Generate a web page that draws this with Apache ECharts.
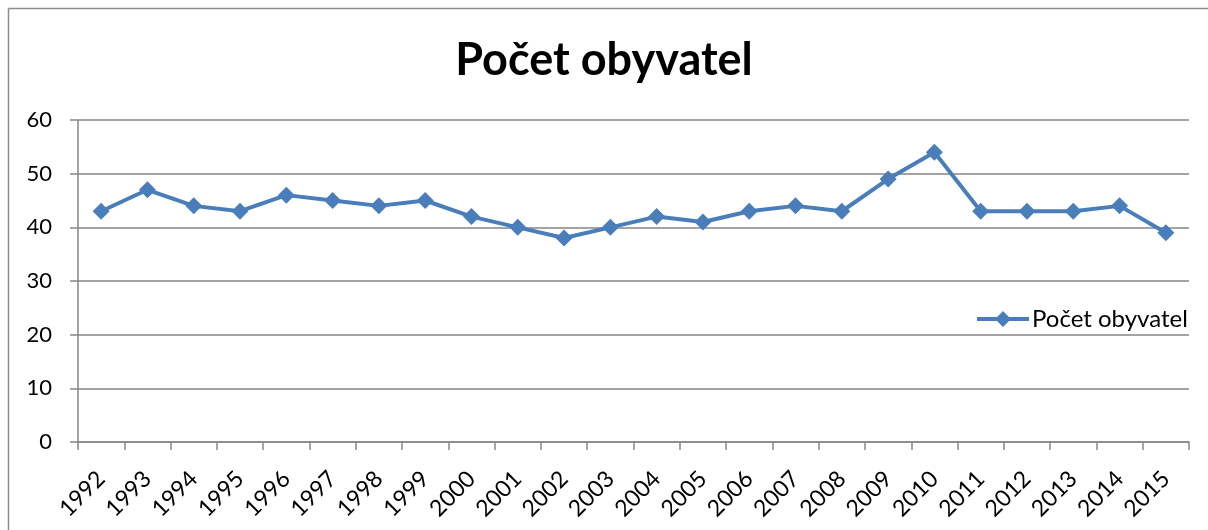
<!DOCTYPE html>
<html><head><meta charset="utf-8">
<script src="https://cdn.jsdelivr.net/npm/echarts@6/dist/echarts.min.js"></script>
<style>html,body{margin:0;padding:0;background:#fff}#c{width:1208px;height:530px}</style>
</head><body><div id="c"></div>
<script>
const years = ['1992','1993','1994','1995','1996','1997','1998','1999','2000','2001','2002','2003','2004','2005','2006','2007','2008','2009','2010','2011','2012','2013','2014','2015'];
const population = [43,47,44,43,46,45,44,45,42,40,38,40,42,41,43,44,43,49,54,43,43,43,44,39];
const seriesName = 'Počet obyvatel';
const titleText = 'Počet obyvatel';

const chart = echarts.init(document.getElementById('c'));
const font = 'Lato, "Open Sans", sans-serif';
chart.setOption({
  animation: false,
  textStyle: {fontFamily: font},
  graphic: [
    {type:'line', shape:{x1:8.5,y1:8.5,x2:1208,y2:8.5}, style:{stroke:'#8c8c8c', lineWidth:1.5}, silent:true},
    {type:'line', shape:{x1:8.5,y1:8.5,x2:8.5,y2:530}, style:{stroke:'#8c8c8c', lineWidth:1.5}, silent:true}
  ],
  title: {text: titleText, left: 'center', top: 33, textStyle:{fontFamily:font, fontSize:45, fontWeight:'bold', color:'#000'}},
  legend: {data:[{name:seriesName, icon:'path://M0,6 L20,6 L26,0 L32,6 L52,6 L52,10 L32,10 L26,16 L20,10 L0,10 Z'}], show:true, left: 972, top: 302, itemWidth: 56, itemHeight: 16, itemGap: 4, textStyle:{fontFamily:font, fontSize:24, color:'#000', padding:[0,0,0,-4]}},
  grid: {left: 78, right: 19, top: 120, bottom: 88},
  xAxis: {type:'category', data: years, boundaryGap: true,
    axisLine:{lineStyle:{color:'#868686', width:1.5}},
    axisTick:{show:true, length:8, lineStyle:{color:'#868686', width:1.5}},
    axisLabel:{rotate:45, fontSize:23, color:'#000', margin:33, fontFamily:font}},
  yAxis: {type:'value', min:0, max:60, interval:10,
    axisLine:{show:true, lineStyle:{color:'#868686', width:1.5}},
    axisTick:{show:true, length:8, lineStyle:{color:'#868686', width:1.5}},
    splitLine:{lineStyle:{color:'#868686', width:1.5}},
    axisLabel:{fontSize:22, color:'#000', margin:26, fontFamily:font}},
  series: [{name: seriesName, type:'line', data: population, symbol:'diamond', symbolSize:17,
    lineStyle:{color:'#4a7ebb', width:4}, itemStyle:{color:'#4a7ebb'}}]
});
</script></body></html>
